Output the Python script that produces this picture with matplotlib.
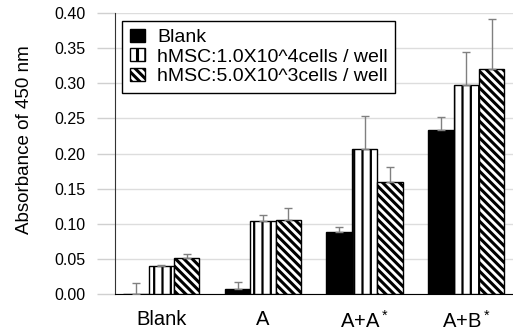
import numpy as np
import matplotlib
matplotlib.use('Agg')
import matplotlib.pyplot as plt

plt.rcParams['font.family'] = ['Liberation Sans', 'DejaVu Sans']
plt.rcParams['mathtext.fontset'] = 'custom'
plt.rcParams['mathtext.rm'] = 'Liberation Sans'
plt.rcParams['mathtext.it'] = 'Liberation Sans'

categories = ['Blank', 'A', 'A+A$^*$', 'A+B$^*$']
series_names = ['Blank', 'hMSC:1.0X10^4cells / well', 'hMSC:5.0X10^3cells / well']
blank = [0.0, 0.007, 0.089, 0.233]
blank_err = [0.016, 0.011, 0.007, 0.019]
h1e4 = [0.040, 0.104, 0.206, 0.298]
h1e4_err = [0.002, 0.009, 0.048, 0.046]
h5e3 = [0.052, 0.106, 0.159, 0.320]
h5e3_err = [0.006, 0.017, 0.022, 0.071]
yticks = [0.00, 0.05, 0.10, 0.15, 0.20, 0.25, 0.30, 0.35, 0.40]

fig = plt.figure(figsize=(5.13, 3.30), dpi=100)
ax = fig.add_axes([0.224, 0.108, 0.776, 0.853])

x = np.arange(len(categories))
w = 0.25
err_kw = dict(ecolor='#808080', elinewidth=1.0, capsize=3, capthick=1.0)

def draw(offset, vals, errs, label, face, hatch, hlw):
    bars = ax.bar(x + offset, vals, w, color=face, edgecolor='black', linewidth=1.0,
                  hatch=hatch, label=label, zorder=3,
                  yerr=[np.zeros(len(errs)), errs], error_kw=err_kw)
    for b in bars:
        if hasattr(b, 'set_hatch_linewidth'):
            b.set_hatch_linewidth(hlw)
    return bars

plt.rcParams['hatch.linewidth'] = 1.6
draw(-w, blank, blank_err, series_names[0], 'black', None, 1.6)
draw(0, h1e4, h1e4_err, series_names[1], 'white', '||', 1.6)
plt.rcParams['hatch.linewidth'] = 2.2
draw(w, h5e3, h5e3_err, series_names[2], 'white', '\\\\\\\\', 2.2)

ax.set_xlim(-0.456, 3.46)
ax.set_ylim(0, 0.40)
ax.set_yticks(yticks)
ax.set_yticklabels(['%.2f' % v for v in yticks], fontsize=11.5)
ax.set_xticks(x)
ax.set_xticklabels(categories, fontsize=14.5)
ax.tick_params(axis='x', length=0, pad=11)
ax.tick_params(axis='y', length=13, color='#d0d0d0', width=1, pad=8)
ax.yaxis.grid(True, color='#dddddd', linewidth=1, zorder=0)
ax.set_axisbelow(True)
for s in ['top', 'right']:
    ax.spines[s].set_visible(False)
ax.spines['left'].set_color('#333333')
ax.spines['bottom'].set_color('black')
ax.set_ylabel('Absorbance of 450 nm', fontsize=13.5)
ax.yaxis.set_label_coords(-0.205, 0.55)

leg = ax.legend(loc='upper left', bbox_to_anchor=(0.018, 0.972), borderaxespad=0,
                fontsize=14, frameon=True, fancybox=False, edgecolor='black',
                framealpha=1, handlelength=0.8, handleheight=0.65,
                handletextpad=0.6, labelspacing=0.12, borderpad=0.4)
leg.get_frame().set_linewidth(1.0)

fig.savefig('out.png', dpi=100)
